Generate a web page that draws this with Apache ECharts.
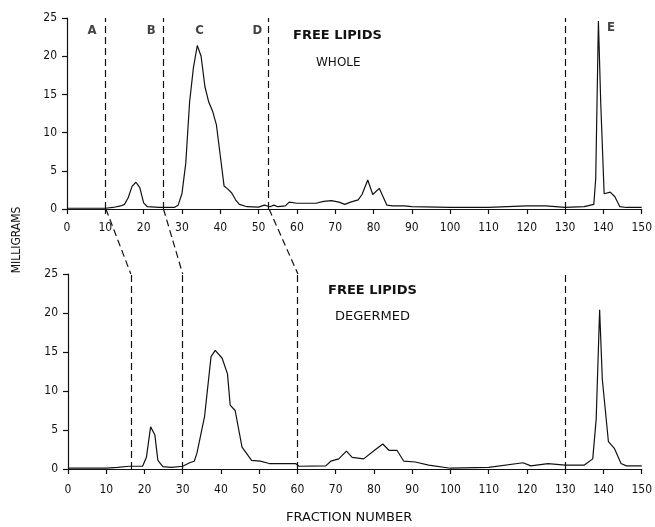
<!DOCTYPE html>
<html>
<head>
<meta charset="utf-8">
<script src="https://cdn.jsdelivr.net/npm/echarts@6/dist/echarts.min.js"></script>
<style>
  html, body { margin: 0; padding: 0; background: #fff; }
  #chart { width: 655px; height: 527px; }
</style>
</head>
<body>
<div id="chart"></div>
<script>
// Free lipids, whole kernel (top panel)
const wholeFractions = [0, 5, 10, 12, 14, 15, 16, 17, 18, 19, 20, 21, 24, 28, 29, 30, 31, 32, 33, 34, 35, 36, 37, 38, 39, 40, 41, 42, 43, 44, 45, 47, 50, 51.5, 53, 54, 55, 57, 58, 60, 65, 67, 69, 71, 72.5, 74, 76, 77, 78.5, 79.8, 81.5, 83.5, 85, 88, 90, 100, 110, 120, 125, 130, 135, 137.5, 138, 138.7, 139.3, 140.2, 141.8, 143, 144.3, 146, 150];
const wholeMg = [0.1, 0.1, 0.1, 0.2, 0.4, 0.6, 1.5, 3.0, 3.5, 2.8, 0.8, 0.3, 0.2, 0.2, 0.5, 2.0, 6, 14, 18.5, 21.4, 20, 16, 14, 12.8, 11, 7, 3, 2.6, 2.1, 1.2, 0.6, 0.3, 0.25, 0.5, 0.3, 0.5, 0.3, 0.4, 0.9, 0.75, 0.75, 1.0, 1.1, 0.9, 0.6, 0.9, 1.2, 1.9, 3.8, 1.9, 2.7, 0.5, 0.4, 0.4, 0.3, 0.2, 0.2, 0.4, 0.4, 0.2, 0.3, 0.6, 4, 24.6, 14, 2, 2.2, 1.6, 0.3, 0.2, 0.2];

// Free lipids, degermed (bottom panel)
const degermedFractions = [0, 5, 10, 13, 16, 19.5, 20.5, 21.6, 22.7, 23.5, 24.8, 27, 30, 31.8, 33, 33.7, 35.7, 37.4, 38.5, 40.3, 41.7, 42.4, 43.7, 45.5, 48, 50.3, 52.6, 59.5, 60.4, 67.4, 68.7, 70.8, 72.8, 74.3, 77.3, 79.9, 82.3, 83.9, 86, 87.8, 90.8, 94.3, 100, 110, 119, 121, 125.5, 130, 135, 137.2, 138.1, 139, 139.7, 141.3, 142.9, 144.6, 146, 150];
const degermedMg = [0.1, 0.1, 0.1, 0.2, 0.35, 0.35, 1.5, 5.4, 4.4, 1.1, 0.3, 0.2, 0.35, 0.8, 1.0, 2.0, 6.7, 14.4, 15.2, 14.2, 12.2, 8.2, 7.5, 2.8, 1.1, 1.0, 0.7, 0.7, 0.35, 0.4, 1.0, 1.3, 2.3, 1.5, 1.3, 2.3, 3.2, 2.4, 2.4, 1.0, 0.9, 0.5, 0.1, 0.2, 0.8, 0.4, 0.7, 0.5, 0.5, 1.3, 6.4, 20.4, 11.5, 3.5, 2.6, 0.7, 0.4, 0.4];

// fraction cut points (dashed lines)
const wholeCuts = [10, 25, 52.5, 130];
const degermedCuts = [16.5, 30, 60, 130];

// region letters in the top panel
const regionNames = ['A', 'B', 'C', 'D', 'E'];
const regionX = [6.5, 22, 34.6, 49.7, 142];
const regionY = [23.3, 23.3, 23.3, 23.3, 23.8];

const font = '"DejaVu Sans Condensed", "Liberation Sans", sans-serif';
const wide = '"DejaVu Sans", sans-serif';
const ink = '#111';

const zip = (xs, ys) => xs.map((x, i) => [x, ys[i]]);

const xAxisBase = (gridIndex, margin) => ({
  type: 'value',
  gridIndex: gridIndex,
  min: 0,
  max: 150,
  interval: 10,
  splitLine: { show: false },
  axisLine: { lineStyle: { color: ink, width: 1.2 } },
  axisTick: { length: 5, lineStyle: { color: ink, width: 1.2 } },
  axisLabel: { color: ink, fontFamily: font, fontSize: 12, margin: margin }
});

const yAxisBase = (gridIndex) => ({
  type: 'value',
  gridIndex: gridIndex,
  min: 0,
  max: 25,
  interval: 5,
  splitLine: { show: false },
  axisLine: { show: true, lineStyle: { color: ink, width: 1.2 } },
  axisTick: { show: true, length: 5, lineStyle: { color: ink, width: 1.2 } },
  axisLabel: { color: ink, fontFamily: font, fontSize: 12, margin: 10 }
});

const cutLines = (cuts) => ({
  silent: true,
  symbol: 'none',
  label: { show: false },
  lineStyle: { type: [7, 4], color: ink, width: 1.2 },
  data: cuts.map(v => ({ xAxis: v }))
});

// connectors between the top and bottom cut lines
const connectors = [[wholeCuts[0], degermedCuts[0]], [wholeCuts[1], degermedCuts[1]], [wholeCuts[2], degermedCuts[2]]]
  .map(([a, b]) => ({
    type: 'line',
    xAxisIndex: 2,
    yAxisIndex: 2,
    data: [[a, 1], [b, 0]],
    showSymbol: false,
    silent: true,
    lineStyle: { color: ink, width: 1.2, type: [7, 4] }
  }));

const chart = echarts.init(document.getElementById('chart'));

const option = {
  animation: false,
  backgroundColor: '#fff',
  grid: [
    { left: 67, right: 12, top: 18, height: 191 },
    { left: 68, right: 11, top: 274, height: 195 },
    { left: 67.5, right: 11.5, top: 209, height: 65 }
  ],
  xAxis: [
    xAxisBase(0, 13),
    xAxisBase(1, 15),
    { type: 'value', gridIndex: 2, min: 0, max: 150, show: false }
  ],
  yAxis: [
    yAxisBase(0),
    yAxisBase(1),
    { type: 'value', gridIndex: 2, min: 0, max: 1, show: false }
  ],
  graphic: [
    { type: 'text', left: 293, top: 29, style: { text: 'FREE LIPIDS', font: 'bold 13px ' + wide, fill: ink } },
    { type: 'text', left: 316, top: 57, style: { text: 'WHOLE', font: '12px ' + wide, fill: ink } },
    { type: 'text', left: 328, top: 284, style: { text: 'FREE LIPIDS', font: 'bold 13px ' + wide, fill: ink } },
    { type: 'text', left: 335, top: 310, style: { text: 'DEGERMED', font: '13px ' + wide, fill: ink } },
    { type: 'text', left: 286, top: 511, style: { text: 'FRACTION NUMBER', font: '13px ' + wide, fill: ink } },
    {
      type: 'text', x: 17, y: 240, rotation: Math.PI / 2,
      style: { text: 'MILLIGRAMS', font: '12px ' + font, fill: ink, align: 'center', verticalAlign: 'middle' }
    }
  ],
  series: [
    {
      type: 'line',
      name: 'Whole',
      xAxisIndex: 0,
      yAxisIndex: 0,
      data: zip(wholeFractions, wholeMg),
      showSymbol: false,
      lineStyle: { color: ink, width: 1.2 },
      markLine: cutLines(wholeCuts)
    },
    {
      type: 'line',
      name: 'Degermed',
      xAxisIndex: 1,
      yAxisIndex: 1,
      data: zip(degermedFractions, degermedMg),
      showSymbol: false,
      lineStyle: { color: ink, width: 1.2 },
      markLine: cutLines(degermedCuts)
    },
    {
      type: 'scatter',
      xAxisIndex: 0,
      yAxisIndex: 0,
      symbolSize: 0,
      silent: true,
      data: regionNames.map((n, i) => ({ name: n, value: [regionX[i], regionY[i]] })),
      label: {
        show: true,
        position: 'inside',
        formatter: '{b}',
        color: ink,
        fontFamily: font,
        fontWeight: 'bold',
        fontSize: 13
      }
    },
    ...connectors
  ]
};

chart.setOption(option);
</script>
</body>
</html>
